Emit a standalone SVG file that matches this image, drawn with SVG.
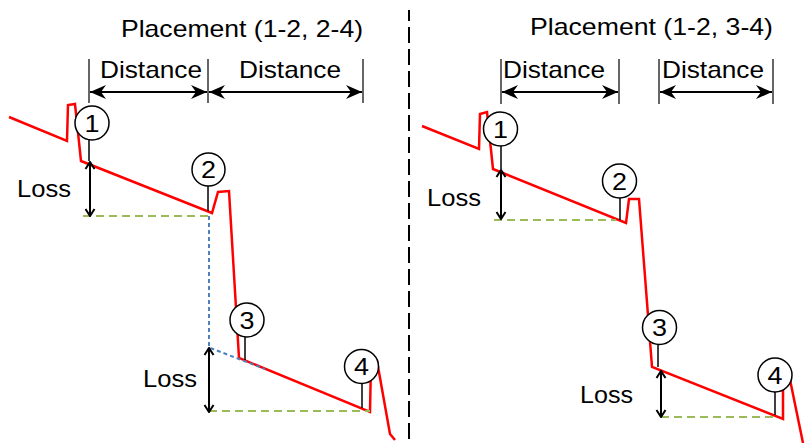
<svg xmlns="http://www.w3.org/2000/svg" width="807" height="443" viewBox="0 0 807 443">
<style>
.t{font-family:"Liberation Sans",Arial,sans-serif;font-size:24px;fill:#000}
.d{font-family:"Liberation Sans",Arial,sans-serif;font-size:24.5px;fill:#000}
.c{fill:#fff;stroke:#000;stroke-width:1.5}
.stem{stroke:#000;stroke-width:1.5;fill:none}
.tick{stroke:#333;stroke-width:1.5;fill:none}
.red{stroke:#ff0000;stroke-width:2.5;fill:none;stroke-linejoin:miter}
.green{stroke:#9bbb59;stroke-width:2.2;stroke-dasharray:8 5;fill:none}
.blue{stroke:#4f81bd;stroke-width:2;stroke-dasharray:4 3;fill:none}
.dist{stroke:#000;stroke-width:2;fill:none;marker-start:url(#ah);marker-end:url(#ah)}
.loss{stroke:#000;stroke-width:2;fill:none;marker-start:url(#av);marker-end:url(#av)}
.sep{stroke:#000;stroke-width:2;stroke-dasharray:16 6;stroke-dashoffset:5;fill:none}
</style>
<defs>
<marker id="ah" markerUnits="userSpaceOnUse" viewBox="-17 -8 18 16" refX="0" refY="0" markerWidth="18" markerHeight="16" orient="auto-start-reverse">
<path d="M0,0 L-16,-7 L-11,0 L-16,7 Z" fill="#000"/>
</marker>
<marker id="av" markerUnits="userSpaceOnUse" viewBox="-9 -6 10 12" refX="0" refY="0" markerWidth="10" markerHeight="12" orient="auto-start-reverse">
<path d="M-7,-4.5 L0,0 L-7,4.5" fill="none" stroke="#000" stroke-width="2"/>
</marker>
</defs>
<rect width="807" height="443" fill="#fff"/>

<g id="separator"><line class="sep" x1="409" y1="10" x2="409" y2="443"/></g>

<g id="titles">
<text class="t" x="121" y="37" textLength="242" lengthAdjust="spacingAndGlyphs">Placement (1-2, 2-4)</text>
<text class="t" x="530" y="35" textLength="243" lengthAdjust="spacingAndGlyphs">Placement (1-2, 3-4)</text>
</g>

<g id="traces">
<path class="red" d="M9,117 L67,141 L68,105 L75,104 L81,161 L212,213 L218,192 L229,191 L239,358 L370,412 L371,362 L377,361 L390,434 L395,440"/>
<path class="red" d="M422,126 L479,149 L480,114 L487,112 L493,169 L626,223 L629,199 L639,199 L652,367 L783,419 L783,371 L788,370 L803,443"/>
</g>

<g id="connectors">
<line class="tick" x1="89" y1="59" x2="89" y2="103"/>
<line class="tick" x1="208" y1="59" x2="208" y2="103"/>
<line class="tick" x1="363" y1="59" x2="363" y2="103"/>
<line class="tick" x1="501" y1="59" x2="501" y2="104"/>
<line class="tick" x1="619" y1="59" x2="619" y2="104"/>
<line class="tick" x1="659" y1="59" x2="659" y2="104"/>
<line class="tick" x1="773" y1="59" x2="773" y2="104"/>
<line class="dist" x1="90" y1="92" x2="207" y2="92"/>
<line class="dist" x1="209" y1="92" x2="362" y2="92"/>
<line class="dist" x1="502" y1="92" x2="618" y2="92"/>
<line class="dist" x1="660" y1="92" x2="772" y2="92"/>
<line class="green" x1="83" y1="216" x2="208" y2="216"/>
<line class="green" x1="209" y1="411" x2="370" y2="411"/>
<line class="green" x1="494" y1="220" x2="616" y2="220"/>
<line class="green" x1="661" y1="417" x2="778" y2="417"/>
<path class="blue" d="M209,216 L209,347.5 L265,369"/>
<line class="loss" x1="90" y1="162" x2="90" y2="216"/>
<line class="loss" x1="209" y1="348" x2="209" y2="412"/>
<line class="loss" x1="501" y1="170" x2="501" y2="219"/>
<line class="loss" x1="661" y1="371" x2="661" y2="417"/>
<line class="stem" x1="89" y1="139" x2="89" y2="161"/>
<line class="stem" x1="208" y1="186" x2="208" y2="211"/>
<line class="stem" x1="245" y1="336" x2="245" y2="360"/>
<line class="stem" x1="362" y1="383" x2="362" y2="408"/>
<line class="stem" x1="501" y1="146" x2="501" y2="169"/>
<line class="stem" x1="620" y1="197" x2="620" y2="220"/>
<line class="stem" x1="658" y1="344" x2="658" y2="367"/>
<line class="stem" x1="775" y1="392" x2="775" y2="415"/>
</g>

<g id="labels">
<text class="t" x="100" y="77.5" textLength="102" lengthAdjust="spacingAndGlyphs">Distance</text>
<text class="t" x="239" y="77.5" textLength="102" lengthAdjust="spacingAndGlyphs">Distance</text>
<text class="t" x="503" y="77.5" textLength="102" lengthAdjust="spacingAndGlyphs">Distance</text>
<text class="t" x="662" y="77.5" textLength="102" lengthAdjust="spacingAndGlyphs">Distance</text>
<text class="t" x="17" y="197" textLength="54" lengthAdjust="spacingAndGlyphs">Loss</text>
<text class="t" x="143" y="387" textLength="54" lengthAdjust="spacingAndGlyphs">Loss</text>
<text class="t" x="427" y="206" textLength="54" lengthAdjust="spacingAndGlyphs">Loss</text>
<text class="t" x="580" y="403" textLength="53" lengthAdjust="spacingAndGlyphs">Loss</text>
</g>

<g id="nodeL1"><circle class="c" cx="92" cy="123" r="17"/><text class="d" x="84.5" y="131.5" textLength="15" lengthAdjust="spacingAndGlyphs">1</text></g>
<g id="nodeL2"><circle class="c" cx="208.5" cy="169.5" r="16.5"/><text class="d" x="201" y="178" textLength="15" lengthAdjust="spacingAndGlyphs">2</text></g>
<g id="nodeL3"><circle class="c" cx="247" cy="320" r="17"/><text class="d" x="239.5" y="328.5" textLength="15" lengthAdjust="spacingAndGlyphs">3</text></g>
<g id="nodeL4"><circle class="c" cx="361.5" cy="366.5" r="17"/><text class="d" x="354" y="375" textLength="15" lengthAdjust="spacingAndGlyphs">4</text></g>
<g id="nodeR1"><circle class="c" cx="500.5" cy="129" r="17"/><text class="d" x="493" y="137.5" textLength="15" lengthAdjust="spacingAndGlyphs">1</text></g>
<g id="nodeR2"><circle class="c" cx="619.5" cy="181" r="17"/><text class="d" x="612" y="189.5" textLength="15" lengthAdjust="spacingAndGlyphs">2</text></g>
<g id="nodeR3"><circle class="c" cx="659.5" cy="327.5" r="17"/><text class="d" x="652" y="336" textLength="15" lengthAdjust="spacingAndGlyphs">3</text></g>
<g id="nodeR4"><circle class="c" cx="775" cy="375" r="17"/><text class="d" x="767.5" y="383.5" textLength="15" lengthAdjust="spacingAndGlyphs">4</text></g>
</svg>
